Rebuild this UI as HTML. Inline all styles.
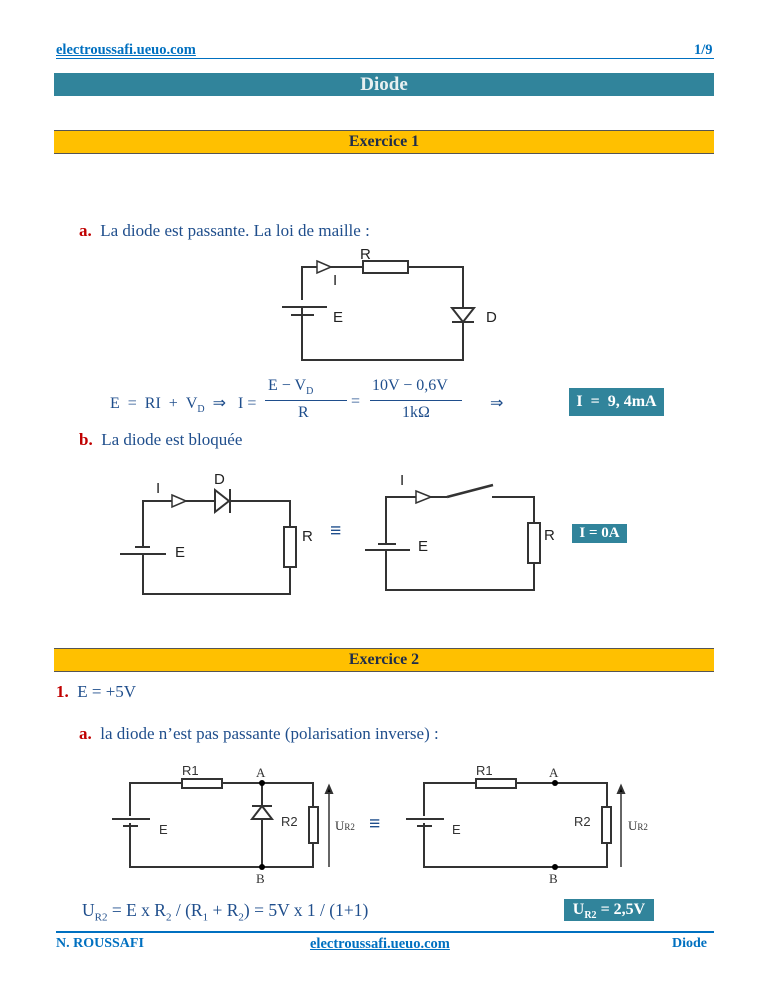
<!DOCTYPE html>
<html><head><meta charset="utf-8"><style>
body{margin:0;width:768px;height:994px;background:#fff;position:relative;font-family:"Liberation Serif",serif;overflow:hidden}
.a{position:absolute;white-space:nowrap}
.t{color:#1f4e8c;font-size:17px}
.r{color:#c00000;font-weight:bold}
.box{position:absolute;background:#31849b;color:#fff;font-weight:bold;text-align:center}
.lk{color:#0070c0;font-weight:bold;text-decoration:underline;font-size:14.5px}
svg{position:absolute;left:0;top:0}
</style></head><body>
<div class="a lk" style="left:56px;top:42px">electroussafi.ueuo.com</div>
<div class="a lk" style="left:694px;top:42px;text-decoration:none">1/9</div>
<div class="a" style="left:56px;top:58px;width:658px;height:1px;background:#0070c0"></div>
<div class="a" style="left:54px;top:73px;width:660px;height:23px;background:#31849b;color:#e8f0f0;font-weight:bold;font-size:19px;text-align:center;line-height:23px">Diode</div>
<div class="a" style="left:54px;top:130px;width:660px;height:22px;background:#ffc000;border-top:1px solid #555;border-bottom:1px solid #555;color:#1f2d4a;font-weight:bold;font-size:16px;text-align:center;line-height:22px">Exercice 1</div>
<div class="a t" style="left:79px;top:221px"><span class="r">a.</span>&nbsp; La diode est passante. La loi de maille :</div>
<div class="a t" style="left:110px;top:393px;font-size:16px">E &nbsp;= &nbsp;RI &nbsp;+ &nbsp;V<sub style="font-size:10px">D</sub> &nbsp;⇒ &nbsp;&nbsp;I =</div>
<div class="a t" style="left:268px;top:377px;font-size:16px">E − V<sub style="font-size:10px">D</sub></div>
<div class="a" style="left:265px;top:400px;width:82px;height:1px;background:#1f4e8c"></div>
<div class="a t" style="left:298px;top:404px;font-size:16px">R</div>
<div class="a t" style="left:351px;top:393px;font-size:16px">=</div>
<div class="a t" style="left:372px;top:377px;font-size:16px">10V − 0,6V</div>
<div class="a" style="left:370px;top:400px;width:92px;height:1px;background:#1f4e8c"></div>
<div class="a t" style="left:402px;top:404px;font-size:16px">1kΩ</div>
<div class="a t" style="left:490px;top:393px;font-size:16px">⇒</div>
<div class="box" style="left:569px;top:388px;width:95px;height:28px;line-height:28px;font-size:16px">I &nbsp;= &nbsp;9, 4mA</div>
<div class="a t" style="left:79px;top:430px"><span class="r">b.</span>&nbsp; La diode est bloquée</div>
<div class="box" style="left:572px;top:524px;width:55px;height:19px;line-height:19px;font-size:15px">I = 0A</div>
<div class="a" style="left:54px;top:648px;width:660px;height:22px;background:#ffc000;border-top:1px solid #555;border-bottom:1px solid #555;color:#1f2d4a;font-weight:bold;font-size:16px;text-align:center;line-height:22px">Exercice 2</div>
<div class="a t" style="left:56px;top:682px"><span class="r">1.</span>&nbsp; E = +5V</div>
<div class="a t" style="left:79px;top:724px"><span class="r">a.</span>&nbsp; la diode n’est pas passante (polarisation inverse) :</div>
<div class="a t" style="left:82px;top:900px;font-size:17.5px">U<sub style="font-size:11px">R2</sub> = E x R<sub style="font-size:11px">2</sub> / (R<sub style="font-size:11px">1</sub> + R<sub style="font-size:11px">2</sub>) = 5V x 1 / (1+1)</div>
<div class="box" style="left:564px;top:899px;width:90px;height:22px;line-height:22px;font-size:16px">U<sub style="font-size:10px">R2</sub> = 2,5V</div>
<div class="a" style="left:56px;top:931px;width:658px;height:2px;background:#0070c0"></div>
<div class="a" style="left:56px;top:936px;color:#0070c0;font-weight:bold;font-size:14px">N. ROUSSAFI</div>
<div class="a lk" style="left:310px;top:936px">electroussafi.ueuo.com</div>
<div class="a" style="left:672px;top:936px;color:#0070c0;font-weight:bold;font-size:14px">Diode</div>

<svg width="768" height="994" font-family="Liberation Sans, sans-serif" font-size="15" fill="none" stroke="#333" stroke-width="2">
<polyline points="302,307 302,360 463,360 463,267 408,267"/><polyline points="363,267 302,267 302,300"/>
<rect x="363" y="261" width="45" height="12" fill="#fff"/>
<polygon points="317,261 331,267 317,273" fill="#fff" stroke-width="1.5"/>
<line x1="282" y1="307" x2="327" y2="307"/><line x1="291" y1="315" x2="314" y2="315"/>
<polygon points="452,308 474,308 463,322" fill="#fff"/><line x1="452" y1="322" x2="474" y2="322"/>
<g fill="#222" stroke="none"><text x="360" y="259">R</text><text x="333" y="285">I</text><text x="333" y="322">E</text><text x="486" y="322">D</text></g>
<polyline points="143,547 143,501 290,501 290,527"/><polyline points="290,567 290,594 143,594 143,554"/>
<rect x="284" y="527" width="12" height="40" fill="#fff"/>
<polygon points="172,495 186,501 172,507" fill="#fff" stroke-width="1.5"/>
<polygon points="215,490 229,501 215,512" fill="#fff"/><line x1="230" y1="489" x2="230" y2="513"/>
<line x1="120" y1="554" x2="166" y2="554"/><line x1="135" y1="547" x2="150" y2="547"/>
<g fill="#222" stroke="none"><text x="156" y="493">I</text><text x="214" y="484">D</text><text x="175" y="557">E</text><text x="302" y="541">R</text></g>
<polyline points="386,544 386,497 447,497"/><line x1="447" y1="497" x2="493" y2="485" stroke-width="2.5"/>
<polyline points="492,497 534,497 534,523"/><polyline points="534,563 534,590 386,590 386,550"/>
<rect x="528" y="523" width="12" height="40" fill="#fff"/>
<polygon points="416,491 431,497 416,503" fill="#fff" stroke-width="1.5"/>
<line x1="365" y1="550" x2="410" y2="550"/><line x1="378" y1="544" x2="396" y2="544"/>
<g fill="#222" stroke="none"><text x="400" y="485">I</text><text x="418" y="551">E</text><text x="544" y="540">R</text></g>
<g fill="#1f4e8c" stroke="none" font-family="Liberation Serif,serif" font-size="20" font-weight="bold"><text x="330" y="537">≡</text><text x="369" y="830">≡</text></g>
<polyline points="130,816 130,783 313,783 313,807"/><polyline points="313,843 313,867 130,867 130,823"/>
<line x1="262" y1="783" x2="262" y2="867"/>
<rect x="182" y="779" width="40" height="9" fill="#fff"/><rect x="309" y="807" width="9" height="36" fill="#fff"/>
<polygon points="262,806 252,819 272,819" fill="#fff"/><line x1="252" y1="806" x2="272" y2="806"/>
<line x1="112" y1="819" x2="150" y2="819"/><line x1="123" y1="826" x2="138" y2="826"/>
<line x1="329" y1="867" x2="329" y2="792" stroke-width="1.5"/><polygon points="326,793 329,786 332,793" fill="#000"/>
<g fill="#000" stroke="none"><circle cx="262" cy="783" r="3"/><circle cx="262" cy="867" r="3"/></g>
<g fill="#333" stroke="none" font-size="13"><text x="182" y="775">R1</text><text x="256" y="777" font-family="Liberation Serif,serif">A</text><text x="256" y="883" font-family="Liberation Serif,serif">B</text><text x="159" y="834">E</text><text x="281" y="826">R2</text><text x="335" y="830" font-family="Liberation Serif,serif">U<tspan font-size="9">R2</tspan></text></g>
<polyline points="424,816 424,783 607,783 607,807"/><polyline points="607,843 607,867 424,867 424,823"/>
<rect x="476" y="779" width="40" height="9" fill="#fff"/><rect x="602" y="807" width="9" height="36" fill="#fff"/>
<line x1="406" y1="819" x2="444" y2="819"/><line x1="417" y1="826" x2="432" y2="826"/>
<line x1="621" y1="867" x2="621" y2="792" stroke-width="1.5"/><polygon points="618,793 621,786 624,793" fill="#000"/>
<g fill="#000" stroke="none"><circle cx="555" cy="783" r="3"/><circle cx="555" cy="867" r="3"/></g>
<g fill="#333" stroke="none" font-size="13"><text x="476" y="775">R1</text><text x="549" y="777" font-family="Liberation Serif,serif">A</text><text x="549" y="883" font-family="Liberation Serif,serif">B</text><text x="452" y="834">E</text><text x="574" y="826">R2</text><text x="628" y="830" font-family="Liberation Serif,serif">U<tspan font-size="9">R2</tspan></text></g>
</svg>
</body></html>
